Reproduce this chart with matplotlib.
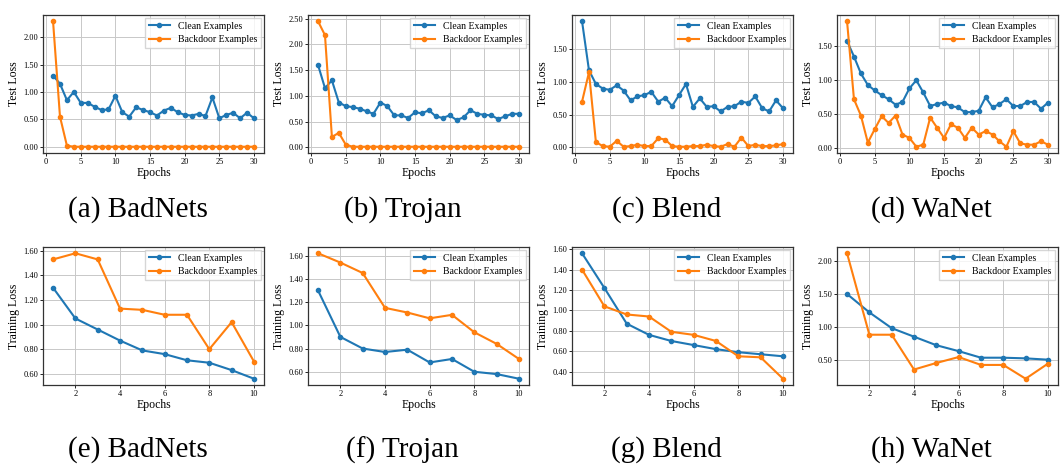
import numpy as np
import matplotlib
matplotlib.use("Agg")
from matplotlib import pyplot as plt

plt.rcParams['font.family'] = ['Liberation Serif', 'DejaVu Serif']

# test loss, 30 epochs
test_epochs = list(range(1, 31))
test_clean = {
    'BadNets': [1.30, 1.15, 0.85, 1.00, 0.80, 0.80, 0.73, 0.67, 0.68, 0.93,
                0.63, 0.55, 0.72, 0.67, 0.63, 0.57, 0.66, 0.71, 0.63, 0.58,
                0.57, 0.60, 0.56, 0.90, 0.52, 0.58, 0.62, 0.52, 0.62, 0.52],
    'Trojan': [1.60, 1.15, 1.30, 0.87, 0.80, 0.78, 0.75, 0.70, 0.65, 0.87,
               0.80, 0.62, 0.62, 0.57, 0.68, 0.66, 0.72, 0.60, 0.57, 0.62,
               0.53, 0.58, 0.72, 0.65, 0.63, 0.62, 0.55, 0.60, 0.65, 0.65],
    'Blend': [1.93, 1.18, 0.97, 0.90, 0.88, 0.95, 0.87, 0.72, 0.78, 0.80,
              0.85, 0.70, 0.76, 0.63, 0.80, 0.97, 0.62, 0.75, 0.62, 0.63,
              0.55, 0.62, 0.63, 0.70, 0.68, 0.78, 0.60, 0.55, 0.72, 0.60],
    'WaNet': [1.58, 1.35, 1.10, 0.93, 0.85, 0.78, 0.72, 0.64, 0.68, 0.88,
              1.00, 0.82, 0.62, 0.65, 0.67, 0.62, 0.60, 0.53, 0.53, 0.55,
              0.75, 0.60, 0.65, 0.72, 0.62, 0.62, 0.68, 0.68, 0.58, 0.67],
}
test_backdoor = {
    'BadNets': [2.29, 0.55, 0.02] + [0.0] * 27,
    'Trojan': [2.45, 2.18, 0.20, 0.28, 0.05] + [0.01] * 25,
    'Blend': [0.70, 1.15, 0.08, 0.02, 0.01, 0.10, 0.01, 0.02, 0.04, 0.02,
              0.02, 0.14, 0.12, 0.02, 0.01, 0.01, 0.02, 0.02, 0.04, 0.02,
              0.01, 0.05, 0.01, 0.15, 0.02, 0.04, 0.02, 0.02, 0.03, 0.05],
    'WaNet': [1.87, 0.72, 0.48, 0.08, 0.28, 0.47, 0.37, 0.48, 0.20, 0.15,
              0.02, 0.05, 0.45, 0.30, 0.15, 0.35, 0.30, 0.15, 0.30, 0.20,
              0.25, 0.20, 0.10, 0.02, 0.25, 0.07, 0.05, 0.05, 0.10, 0.05],
}
test_yticks = {
    'BadNets': [0.0, 0.5, 1.0, 1.5, 2.0],
    'Trojan': [0.0, 0.5, 1.0, 1.5, 2.0, 2.5],
    'Blend': [0.0, 0.5, 1.0, 1.5],
    'WaNet': [0.0, 0.5, 1.0, 1.5],
}

# training loss, 10 epochs
train_epochs = list(range(1, 11))
train_clean = {
    'BadNets': [1.30, 1.05, 0.96, 0.87, 0.79, 0.76, 0.71, 0.69, 0.63, 0.56],
    'Trojan': [1.30, 0.90, 0.80, 0.77, 0.79, 0.68, 0.71, 0.60, 0.58, 0.54],
    'Blend': [1.56, 1.22, 0.87, 0.76, 0.70, 0.66, 0.62, 0.59, 0.57, 0.55],
    'WaNet': [1.50, 1.22, 0.98, 0.85, 0.72, 0.63, 0.53, 0.53, 0.52, 0.50],
}
train_backdoor = {
    'BadNets': [1.53, 1.58, 1.53, 1.13, 1.12, 1.08, 1.08, 0.80, 1.02, 0.70],
    'Trojan': [1.62, 1.54, 1.45, 1.15, 1.11, 1.06, 1.09, 0.94, 0.84, 0.71],
    'Blend': [1.40, 1.04, 0.96, 0.94, 0.79, 0.76, 0.70, 0.55, 0.54, 0.33],
    'WaNet': [2.12, 0.88, 0.88, 0.35, 0.45, 0.54, 0.42, 0.42, 0.21, 0.44],
}
train_yticks = {
    'BadNets': [0.6, 0.8, 1.0, 1.2, 1.4, 1.6],
    'Trojan': [0.6, 0.8, 1.0, 1.2, 1.4, 1.6],
    'Blend': [0.4, 0.6, 0.8, 1.0, 1.2, 1.4, 1.6],
    'WaNet': [0.5, 1.0, 1.5, 2.0],
}

attacks = ['BadNets', 'Trojan', 'Blend', 'WaNet']
top_letters = ['a', 'b', 'c', 'd']
bottom_letters = ['e', 'f', 'g', 'h']

W, H = 1060, 465
fig = plt.figure(figsize=(W / 100, H / 100), dpi=100)

lefts = [43, 308, 572, 837]
ax_w = 221
ax_h = 138
tops = [15, 247]


def draw(ax, x, clean, backdoor, yticks, xticks, ylabel):
    ax.plot(x, clean, color='#1f77b4', marker='o', markersize=3, linewidth=1.5,
            label='Clean Examples')
    ax.plot(x, backdoor, color='#ff7f0e', marker='o', markersize=3, linewidth=1.5,
            label='Backdoor Examples')
    ax.set_yticks(yticks)
    ax.set_xticks(xticks)
    ax.yaxis.set_major_formatter(matplotlib.ticker.FormatStrFormatter('%.2f'))
    ax.grid(True, color='#c8c8c8', linewidth=0.7)
    ax.tick_params(labelsize=6, length=2, width=0.6, pad=1.5)
    for s in ax.spines.values():
        s.set_linewidth(0.9)
        s.set_color('#333333')
    ax.set_xlabel('Epochs', fontsize=8.5, labelpad=1)
    ax.set_ylabel(ylabel, fontsize=8.5, labelpad=2)
    ax.legend(loc='upper right', fontsize=7, frameon=True, fancybox=False,
              edgecolor='#cccccc', handlelength=2.2, borderpad=0.4,
              labelspacing=0.45, borderaxespad=0.3)


for i, name in enumerate(attacks):
    for row in range(2):
        rect = [lefts[i] / W, 1 - (tops[row] + ax_h) / H, ax_w / W, ax_h / H]
        ax = fig.add_axes(rect)
        if row == 0:
            draw(ax, test_epochs, test_clean[name], test_backdoor[name],
                 test_yticks[name], [0, 5, 10, 15, 20, 25, 30], 'Test Loss')
            letter = top_letters[i]
            cy = 210
        else:
            draw(ax, train_epochs, train_clean[name], train_backdoor[name],
                 train_yticks[name], [2, 4, 6, 8, 10], 'Training Loss')
            letter = bottom_letters[i]
            cy = 450
        cx = lefts[i] + ax_w / 2 - 16
        fig.text(cx / W, 1 - cy / H, '(%s) %s' % (letter, name), fontsize=21,
                 ha='center', va='center')

fig.savefig('out.png', dpi=100)
